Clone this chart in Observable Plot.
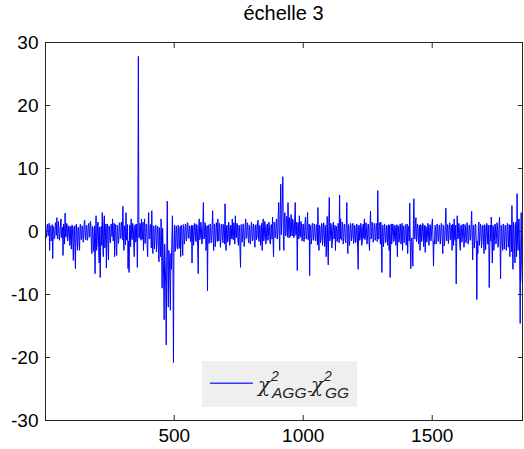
<!DOCTYPE html>
<html><head><meta charset="utf-8">
<script src="https://cdn.jsdelivr.net/npm/d3@7"></script>
<script src="https://cdn.jsdelivr.net/npm/@observablehq/plot@0.6"></script>
<style>
body{margin:0;background:#fff;font-family:"Liberation Sans",Arial,sans-serif;}
#wrap{position:relative;width:524px;height:449px;overflow:hidden;}
#title{position:absolute;left:0;top:0;width:567px;height:26px;text-align:center;font-size:20px;line-height:26px;color:#000;}
#chart{position:absolute;left:0;top:26px;}
#legend{position:absolute;left:202px;top:361px;}
</style></head><body>
<div id="wrap">
<div id="title"></div>
<div id="chart"></div>
<svg id="legend" width="155" height="46"></svg>
</div>
<script>
const title = "échelle 3";
const xStart = 1, xStep = 4;
const xDomain = [1, 1850];
const yDomain = [-30, 30];
const xTicks = [500, 1000, 1500];
const yTicks = [-30, -20, -10, 0, 10, 20, 30];
// sampled values at x = 1, 5, 9, ...
const values = [
0.6,-0.8,1.2,-0.5,-3.0,0.9,-1.1,-4.3,0.7,-0.9,1.0,2.2,-1.2,0.5,-0.7,2.0,-1.0,-3.8,0.8,2.9,
-0.9,1.1,-0.6,0.8,-1.4,-2.8,1.0,-4.6,0.9,-5.9,1.2,-3.0,0.6,-3.0,1.1,-1.2,0.7,-0.9,1.8,-1.3,
0.9,-1.1,1.3,-0.8,1.0,-3.5,0.6,-3.2,-6.7,2.5,-2.0,1.5,-5.0,-7.3,0.8,3.0,-4.0,2.5,-1.5,-5.8,
1.2,-4.5,0.7,-1.8,1.0,2.0,-1.2,-4.0,1.1,-3.8,0.6,-1.5,1.3,-0.9,0.8,4.0,-3.0,0.7,3.0,-1.4,
-5.9,-6.5,1.0,2.0,-1.3,0.8,-4.0,1.1,-0.9,-5.7,27.8,-1.0,0.9,2.0,-1.2,-3.0,2.0,-0.8,1.1,-4.0,
3.0,-1.1,0.9,3.3,-3.5,0.7,-1.4,1.0,-2.0,0.8,-4.8,-1.5,2.0,-9.0,-3.0,-14.0,-5.0,-18.0,4.8,-12.0,
-4.0,-12.5,-6.0,2.5,-20.8,1.0,-3.0,0.8,-2.8,0.6,-1.5,-4.0,0.9,-3.8,0.7,-1.2,1.0,-0.9,1.3,-1.1,
0.8,-1.3,-5.0,1.0,-0.8,1.2,-1.6,0.9,-6.7,2.0,-1.0,0.7,-1.3,4.6,-0.9,1.1,-2.0,-9.4,1.0,-1.2,
0.8,-1.4,3.3,-3.0,1.0,-1.1,0.7,2.0,-1.5,0.9,-1.0,1.2,-1.8,0.6,4.4,-3.0,1.0,-1.2,0.8,-1.6,
0.9,2.0,-1.3,0.7,2.5,-1.0,1.1,-2.2,0.8,-5.7,1.0,-1.1,0.6,-1.4,2.0,-0.9,1.2,-1.8,0.7,-1.0,
1.0,-1.2,0.8,-2.5,1.1,-0.9,1.8,-1.6,0.7,-1.1,-3.0,2.0,-1.0,0.9,-1.4,1.2,-0.8,0.9,-2.0,1.1,
2.3,-4.0,1.2,-0.8,2.0,-0.5,4.6,-3.0,7.5,1.5,8.7,-3.0,3.0,-0.6,1.8,4.6,-1.0,1.5,2.7,-0.7,
1.6,-0.8,4.6,-0.5,-6.2,1.4,2.5,-0.9,1.2,-1.3,1.0,-0.8,2.3,-1.2,3.0,-1.0,-7.0,0.9,-1.1,1.3,
-0.9,0.8,-1.4,1.0,3.8,-3.0,0.7,-1.2,1.1,-0.9,0.8,-1.6,-4.0,2.4,-5.3,5.4,-1.0,0.9,-1.5,1.5,
-1.1,-3.0,0.8,-1.2,1.0,5.8,2.0,-1.4,0.9,-1.0,1.1,-1.8,4.6,-3.5,0.8,-1.2,1.0,-0.9,1.3,-1.5,
0.7,-1.3,0.9,-6.0,1.0,-1.1,0.8,-1.6,1.2,2.0,-1.0,0.7,-1.4,1.1,-3.0,3.2,-0.9,0.8,-1.2,1.0,
-1.0,0.9,6.5,-1.2,0.8,1.5,-6.5,1.0,-1.1,0.7,-1.5,0.9,-1.0,-3.0,-7.3,1.2,-0.8,1.0,-1.3,0.8,
-1.0,-4.0,0.9,-1.2,1.0,-0.8,-3.0,0.7,-1.4,1.1,-0.9,-3.5,0.8,4.5,-5.9,-1.0,-5.5,5.2,-1.2,2.2,
-1.0,0.8,-1.3,-3.0,1.0,-0.9,1.1,-1.2,-3.3,0.7,-1.0,0.9,-1.4,1.0,-0.8,2.0,-5.5,-2.0,0.9,-1.1,
0.8,-1.2,1.0,-0.9,1.1,-3.5,0.7,-1.3,3.7,-1.5,0.9,-1.0,1.2,-0.8,-3.0,0.9,2.0,-1.4,-8.3,2.5,
-1.1,0.8,-3.0,1.0,-0.9,1.1,-1.3,0.7,-1.0,0.9,-1.5,1.0,-1.2,3.2,-4.5,0.8,-1.4,1.0,-10.8,-3.5,
1.5,-1.0,0.8,-1.6,1.0,-3.5,0.9,-1.2,1.1,-2.0,-8.9,1.0,2.3,-5.0,0.8,-1.4,1.0,-1.1,0.9,-1.8,
2.3,-7.5,0.9,-3.0,1.0,-1.3,0.8,-1.6,1.2,-1.0,-4.0,0.9,4.1,-6.0,1.0,-5.0,1.5,6.0,-3.0,2.0,
-14.6,3.0,-8.0
];
// sampled values at x = 3, 7, 11, ...
const midValues = [
-1.0,0.9,-0.7,1.3,0.6,-1.5,1.1,0.8,-1.2,1.4,-0.6,-1.0,1.6,-1.4,1.0,-0.9,0.7,1.2,-2.0,-0.8,
1.3,-1.5,0.9,-2.2,0.8,1.0,-1.8,0.5,-2.5,0.9,-1.6,0.7,-2.0,1.1,-1.3,0.9,-1.7,1.4,-0.8,1.0,
-1.4,1.0,-0.9,1.6,-2.4,0.8,-2.8,0.9,-1.0,-3.0,1.2,-2.5,0.7,-1.5,-2.2,-1.8,1.0,-2.6,1.2,0.5,
-2.0,0.9,-1.6,1.2,-0.8,-1.5,1.3,0.8,-2.3,1.0,-1.9,1.4,-1.1,1.5,-1.3,-1.0,0.9,-2.1,-1.2,1.1,
-1.5,1.0,-2.4,-1.1,1.3,-1.8,0.9,-1.7,1.2,0.8,-1.0,1.3,-1.4,-1.2,1.5,0.7,-1.9,1.2,-2.3,0.8,
-1.2,1.1,-2.6,-1.5,0.9,-2.8,1.0,-3.2,0.8,-3.5,0.6,-4.0,-1.5,0.5,-7.5,-2.0,-8.5,-4.0,-6.0,-3.0,
-8.0,-3.5,-1.0,-5.0,-2.0,-3.2,0.9,-2.5,1.0,-2.7,0.8,1.0,-1.8,1.1,-2.0,1.2,-1.5,1.4,-1.0,0.9,
-1.6,1.0,0.7,-2.2,1.3,-1.5,1.1,-2.6,0.8,-1.3,1.5,-2.0,1.0,-1.2,1.4,-3.0,0.9,1.0,-1.9,1.2,
-1.8,1.1,-1.0,1.2,-2.4,1.4,-1.6,-1.0,1.3,-2.5,1.0,-1.4,1.1,-2.0,-1.2,0.9,-1.7,1.5,-2.2,1.0,
-1.2,-1.0,1.4,-2.0,-0.8,1.3,-1.5,1.0,-3.0,1.1,-1.7,1.2,-2.4,0.9,-1.1,1.4,-1.3,1.0,-2.0,1.5,
-1.5,1.2,-1.9,1.0,-1.3,1.5,-1.2,1.0,-2.2,1.3,0.8,-1.5,1.6,-2.0,1.0,-1.4,1.5,-1.8,1.0,-1.2,
-1.3,1.5,-1.0,1.6,-1.2,2.5,-0.8,3.5,-0.5,5.0,-0.8,2.0,-0.7,2.4,-0.9,1.0,2.2,-0.8,0.2,2.0,
-1.0,1.8,-0.6,1.5,0.8,-1.2,-0.5,1.6,-1.5,1.2,-1.6,1.4,-1.1,1.0,-1.3,1.2,1.0,-2.0,1.3,-1.4,
1.2,-1.5,1.1,-2.1,-1.0,1.0,-1.8,1.3,-2.2,1.4,-2.4,1.0,-1.0,-2.0,0.8,-1.5,1.3,-2.6,1.0,-1.2,
1.0,0.7,-1.6,1.3,-1.8,-1.2,-1.0,1.5,-2.0,1.2,-1.4,1.0,-1.3,1.1,-2.2,1.3,-1.5,1.2,-1.9,1.0,
-1.8,1.2,-2.5,1.0,-1.4,1.3,-2.2,1.0,-1.1,-1.3,1.4,-2.0,1.2,-1.6,1.0,-1.2,1.5,-1.7,1.3,-1.4,
1.3,-1.6,-1.0,1.4,-2.0,-1.2,1.0,-2.4,1.2,-1.8,1.0,-2.2,1.1,1.0,-1.5,-2.0,1.2,-1.6,1.0,-2.2,
1.1,0.8,-1.7,1.2,-2.0,1.3,0.9,-1.8,1.0,-2.2,1.2,0.8,-1.5,-2.0,-1.5,-3.0,1.0,-1.0,1.3,-1.6,
1.2,-2.0,1.0,1.1,-1.6,1.3,-2.4,1.0,0.8,-1.7,1.3,-2.2,1.1,-1.5,1.3,-1.0,-1.5,1.0,-2.0,1.2,
-1.6,1.0,-2.0,1.3,-1.5,1.0,-2.3,1.2,-1.0,1.1,-1.9,1.4,-1.3,1.0,1.2,-2.2,-1.0,1.0,-1.5,-1.2,
1.3,-2.1,1.0,-1.7,1.2,-2.5,1.1,-1.8,1.4,-2.0,1.0,-1.4,1.2,-1.0,1.0,-2.6,1.2,-2.0,-1.5,1.0,
-2.2,1.2,-2.6,1.0,-1.8,1.1,-2.9,1.3,-2.0,1.0,-2.4,-1.5,-1.3,1.0,-3.0,1.2,-2.0,1.4,-2.5,1.0,
-1.5,1.0,-2.2,1.2,-2.8,1.0,-3.0,1.3,-2.5,1.1,1.0,-3.2,-2.0,1.5,-3.5,1.0,-4.0,-2.0,1.8,-4.5,
-3.0,-5.0
];
const seriesSymbol = "χ";
const seriesA = "AGG";
const seriesB = "GG";
const seriesPower = "2";

document.getElementById("title").textContent = title;

const data = [];
values.forEach((v, i) => {
  const x = xStart + i * xStep;
  data.push({x, y: v});
  if (i < midValues.length) data.push({x: x + xStep / 2, y: midValues[i]});
});
const axisColor = "#262626";
const noText = () => "";
const plainNum = d => String(d);

const chart = Plot.plot({
  width: 524,
  height: 423,
  marginTop: 16,
  marginLeft: 45,
  marginRight: 2,
  marginBottom: 29,
  x: {domain: xDomain},
  y: {domain: yDomain},
  style: {fontFamily: '"Liberation Sans", Arial, sans-serif', fontSize: "19px", color: axisColor, background: "transparent"},
  marks: [
    Plot.line(data, {x: "x", y: "y", stroke: "#0000ff", strokeWidth: 1}),
    Plot.frame({stroke: axisColor, strokeWidth: 1}),
    Plot.axisX({ticks: xTicks, anchor: "bottom", tickSize: 0, tickPadding: 8, tickFormat: plainNum, label: null, fill: "#000"}),
    Plot.axisX({ticks: xTicks, anchor: "bottom", tickSize: -5, tickFormat: noText, label: null}),
    Plot.axisX({ticks: xTicks, anchor: "top", tickSize: -5, tickFormat: noText, label: null}),
    Plot.axisY({ticks: yTicks, anchor: "left", tickSize: 0, tickPadding: 7, tickFormat: plainNum, label: null, fill: "#000"}),
    Plot.axisY({ticks: yTicks, anchor: "left", tickSize: -5, tickFormat: noText, label: null}),
    Plot.axisY({ticks: yTicks, anchor: "right", tickSize: -5, tickFormat: noText, label: null})
  ]
});
document.getElementById("chart").appendChild(chart);

// legend
const lg = d3.select("#legend");
lg.append("rect").attr("width", 155).attr("height", 46).attr("fill", "#efefef");
lg.append("rect").attr("x", 8).attr("y", 21.5).attr("width", 43).attr("height", 1.5)
  .attr("fill", "#3a3aff");
const t = lg.append("text").attr("font-family", '"Liberation Sans", Arial, sans-serif')
  .attr("font-style", "italic").attr("fill", "#262626");
const parts = [
  {s: seriesSymbol, x: 56, y: 31, f: 20, serif: true},
  {s: seriesPower, x: 69, y: 20, f: 14},
  {s: seriesA, x: 70, y: 37, f: 15.5},
  {s: "-", x: 105, y: 35, f: 16},
  {s: seriesSymbol, x: 109, y: 31, f: 20, serif: true},
  {s: seriesPower, x: 122, y: 20, f: 14},
  {s: seriesB, x: 123, y: 37, f: 15.5}
];
parts.forEach(p => {
  const s = t.append("tspan").attr("x", p.x).attr("y", p.y).attr("font-size", p.f).text(p.s);
  if (p.serif) s.attr("font-family", '"DejaVu Serif", serif');
});
</script>
</body></html>
